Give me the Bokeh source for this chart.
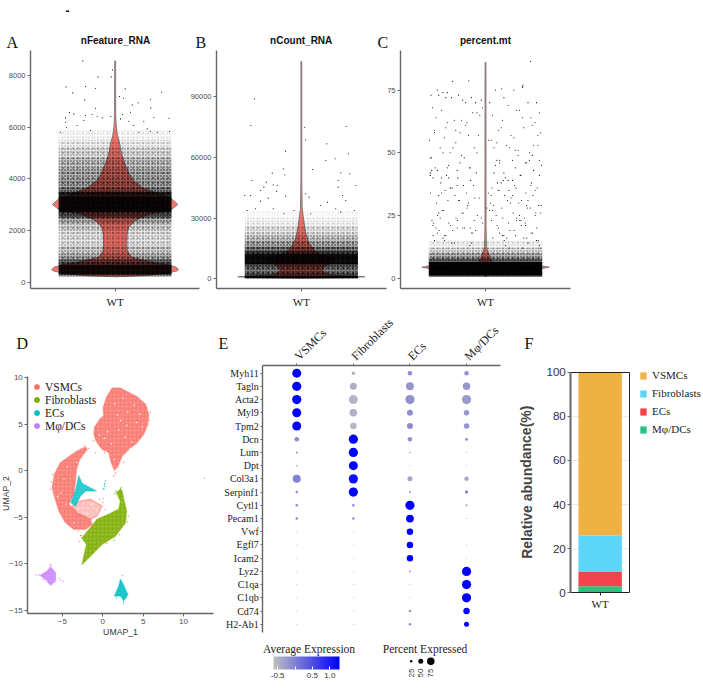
from bokeh.embed import file_html
from bokeh.resources import INLINE
from bokeh.plotting import figure
from bokeh.models import (Range1d, FixedTicker, LinearAxis, Legend, LegendItem, NumeralTickFormatter,
                          ColorBar, LinearColorMapper, ColumnDataSource)

SANS = "Liberation Sans"
SERIF = "Liberation Serif"
OX, OY = 0, 0      # where the canvas sits on the page
W, H = 702, 688

# ---------- violin data ----------
a_y = [220,260,350,450,500,600,700,750,850,977,1234,1500,1877,2135,2390,2650,2778,3010,3228,3420,3680,3935,4190,4580,4960,5350,5735,6120,6500,8550]
a_w = [0,.2,.36,.44,.45,.43,.36,.29,.21,.115,.085,.082,.085,.095,.14,.245,.39,.445,.40,.305,.187,.128,.1,.069,.045,.033,.014,.007,.004,.003]
a_band_lo = [220,300,700,900,1100,1400,2000,2300,2500,2700,3300,3500,3650,4000,4400,4800,5200,5500]
a_band_hi = [300,700,900,1100,1400,2000,2300,2500,2700,3300,3500,3650,4000,4400,4800,5200,5500,5900]
a_band_d = [.55,.95,.75,.5,.36,.26,.34,.5,.8,.97,.92,.68,.55,.5,.42,.3,.18,.09]
a_px = [-.229,-.019,-.028,-.121,-.348,-.21,-.139,-.30,.071,-.215,.031,.059,.25,.163,.121,.253,.329,-.139,-.324,-.293,-.352,-.352,-.21,-.163,-.128,-.092,-.031,.052,.109,.274,.381,.203,.097,-.345,-.27,-.222,.132,.168,.385,.25,.298,-.388,.227,-.175,.038]
a_py = [8552,8205,7935,7935,7549,7562,7497,7317,7472,7047,7176,7112,7073,6932,6854,6739,7343,6726,6559,6507,6353,6186,6443,6481,6417,6353,6404,6481,6571,6379,6340,6224,6224,5993,6057,6250,6057,5800,5826,5838,5800,5800,5928,5864,6314]

b_y = [200,300,600,1000,1400,1800,4000,6000,8000,10000,12000,14000,17000,20000,25000,30000,35000,50000,107500]
b_w = [0,.1,.35,.45,.35,.2,.15,.16,.22,.24,.14,.09,.06,.04,.025,.015,.006,.003,.003]
b_band_lo = [300,1500,3000,5500,7000,12500,14000,16000,19000,22000,26000,30000]
b_band_hi = [1500,3000,5500,7000,12500,14000,16000,19000,22000,26000,30000,34000]
b_band_d = [.98,.8,.68,.78,.97,.85,.68,.5,.36,.24,.12,.05]
b_px = [-.331,-.357,.024,.317,.031,.18,-.111,.173,.239,.333,-.128,-.206,-.116,.08,.279,.343,-.35,.26,-.248,-.199,-.17,-.265,.385,-.288,-.175,.26,-.4,-.359,-.111,.031,.054,.291,-.234,.314,.184,-.288,-.199,-.383,-.324,.137,.243,.374,-.052,-.123,.066,.279]
b_py = [88990,75800,74980,75300,68720,66740,63120,58500,59330,61800,54380,52240,51420,54050,52400,51900,48600,48600,47800,46470,46140,45320,46140,43670,43340,45320,41200,41200,40870,42020,40380,41200,39880,38730,37900,38400,34610,33780,34610,36260,34610,33780,33780,32140,32140,32960]

c_y = [.5,2,3.4,3.9,4.4,4.9,5.3,6,8,10,12,20,86]
c_w = [0,.02,.3,.4,.45,.4,.2,.05,.035,.02,.008,.004,.003]
c_band_lo = [.5,1,6.5,8,10,12]
c_band_hi = [1,6.5,8,10,12,15]
c_band_d = [.7,.99,.75,.5,.3,.14]
c_px = [.318,-.232,-.118,.26,.262,.265,.115,-.34,-.33,-.3,-.27,-.24,-.19,-.16,-.1,-.07,-.03,.03,.07,.13,.16,.2,.24,.3,.36,.38,-.385,-.375,-.35,-.31,-.28,-.22,-.18,-.14,-.09,-.05,.05,.09,.12,.18,.22,.27,.32,.35,.39,-.395,-.36,-.32,-.29,-.25,-.21,-.17,-.12,-.08,.04,.08,.11,.15,.19,.23,.28,.33,.37,.395,-.38,-.34,-.3,-.26,-.23,-.2,-.15,-.11,-.06,.06,.1,.14,.17,.21,.25,.29,.34,.38,-.39,-.355,-.315,-.275,-.245,-.195,-.155,-.105,-.065,.045,.085,.125,.165,.205,.245,.285,.325,.365,-.37,-.33,-.285,-.235,-.185,-.135,-.085,-.045,.055,.095,.135,.175,.215,.255,.295,.335,.375,-.388,-.345,-.305,-.265,-.215,-.165,-.125,-.075,.035,.075,.115,.155,.195,.235,.275,.315,.355,.392,-.378,-.338,-.298,-.258,-.208,-.158,-.108,-.058,.042,.082,.122,.162,.202,.242,.282,.322,.362,-.368,-.328,-.288,-.248,-.198,-.148,-.098,.052,.092,.132,.172,.212,.252,.292,.332,.372,
        -.37,-.29,-.24,-.13,-.02,.02,.1,.19,.26,.31,.38,-.36,-.28,-.2,-.11,.01,.08,.16,.24,.33,-.39,-.31,-.23,-.14,-.04,.06,.13,.22,.3,.37,-.35,-.27,-.18,-.09,.03,.11,.2,.28,.35,-.38,-.3,-.21,-.12,-.03,.07,.15,.23,.32,.39,-.34,-.26,-.17,-.08,.04,.12,.21,.29,.36,-.39,-.32,-.25,-.16,-.06,.05,.14,.18,.27,.34,-.37,-.31,-.22,-.13,-.07,.09,.17,.25,.31,.38,-.33,-.28,-.19,-.1,-.02,.1,.19,.26,.35,-.36,-.27,-.2,-.11,.02,.13,.22,.3,.39]
c_py = [86.5,78.5,78.7,76.5,76,77,75.5,75,73,74,74,72,73,71,72,70,71,70,75,72,69,75,67,70,70,66,73,68,64,67,60,63,58,61,66,57,65,59,63,57,67,60,64,62,58,55,59,52,56,50,54,49,57,52,55,47,60,53,47,51,46,49,53,45,48,43,50,45,52,43,48,44,50,42,46,40,52,44,41,46,43,47,41,44,38,41,36,40,37,39,42,36,38,39,35,37,41,34,38,36,40,33,35,36,31,34,37,32,29,35,33,30,36,31,28,33,29,34,30,27,31,33,26,29,32,30,25,28,31,26,30,24,28,26,29,23,25,27,22,24,26,20,25,23,21,24,22,19,23,21,18,20,22,19,17,21,23,20,18,16,20,15,19,17,21,16,18,15,17,15,14,
        62,68,55,47,33,64,50,41,58,72,37,44,28,54,39,25,61,48,34,19,70,65,52,42,24,31,57,20,62,46,18,27,38,56,22,35,43,16,59,30,24,45,16,49,37,26,18,40,63,23,33,17,51,29,15,42,24,36,20,66,27,13,32,16,53,21,40,14,28,19,35,12,23,47,13,26,17,31,14,22,18,39,12,25,15,44,20,13,34,17,23,14,12,27,16,19,13,21,11]

# ---------- UMAP outlines ----------
vsmc_up_x = [1.16,2.19,3.23,4.26,5.29,5.70,5.58,5.08,4.26,3.23,2.40,1.99,1.45,1.04,.75,-.08,-.70,-1.11,-1.03,-.37,.13,.05,.46]
vsmc_up_y = [8.89,8.89,8.42,7.95,7.16,6.08,5.01,3.93,3.03,2.31,1.59,.70,.05,.88,1.95,2.31,3.03,3.93,4.65,5.55,5.91,6.80,7.88]
vsmc_cr_x = [-2.14,-3.18,-4.21,-5.24,-5.99,-6.27,-6.07,-5.45,-4.62,-3.59,-2.14,-1.32,-1.52,-3.18,-4.21,-3.59,-3.38,-3.26,-2.85,-1.94]
vsmc_cr_y = [2.56,2.13,1.49,.88,-.38,-1.82,-2.54,-4.33,-5.59,-6.31,-6.31,-5.77,-5.23,-4.51,-3.61,-2.54,-1.10,.16,1.24,2.31]
vsmc_sp_x = [-2.76,-1.52,-.08,-.70,-1.52,-3.18,-3.80]
vsmc_sp_y = [-3.25,-3.07,-3.79,-4.87,-5.23,-4.69,-3.79]
fib_x = [2.19,1.70,2.19,1.99,.75,-.70,-1.52,-2.56,-2.02,-2.56,-1.52,-.08,1.57,2.81,2.94,2.60,2.40]
fib_y = [-2.0,-2.36,-3.25,-4.15,-4.69,-5.23,-6.13,-7.21,-7.92,-10.08,-9.18,-7.92,-7.03,-5.59,-4.33,-3.07,-2.18]
ec_a_x = [-2.98,-2.56,-.83,-2.15,-2.77,-3.39,-3.93,-3.39,-3.10]
ec_a_y = [-.56,-1.38,-2.17,-2.17,-2.71,-3.79,-3.43,-2.17,-1.09]
ec_b_x = [2.19,2.52,3.10,2.60,2.19,1.45,1.99]
ec_b_y = [-11.69,-12.23,-13.31,-13.96,-13.49,-13.49,-12.41]
mp_x = [-6.48,-5.86,-5.86,-6.48,-7.10,-7.72,-6.89]
mp_y = [-10.37,-10.98,-11.88,-12.31,-11.69,-11.26,-10.80]
# scattered cells beyond the dense clouds
ec_p_x = [.1,.2,.25,.3,.15,.2,2.6,2.55,2.45,2.75,2.9,1.7]
ec_p_y = [-1.9,-1.7,-1.4,-1.1,-2.0,-1.5,-14.3,-14.1,-11.3,-13.8,-13.6,-13.7]
mp_p_x = [12.6,-5.2,-4.9,-5.4,-8.0,-7.8,-8.3,-6.4,-6.5,-7.4]
mp_p_y = [-.8,-11.8,-11.9,-11.6,-11.3,-11.2,-11.2,-10.2,-10.1,-11.7]
fib_p_x = [-.95,-.9,-.85,-2.6,-2.4,-2.2,-2.7,2.2,2.3,1.6,1.5,3.15,3.1,.5,1.4,-1.2,-1.8,2.1]
fib_p_y = [3.6,3.9,3.3,-7.3,-7.5,-7.2,-7.0,-1.9,-1.8,-2.2,-2.5,-4.9,-5.5,-7.8,-7.5,-8.8,-8.0,-6.9]
vs_p_x = [-2.3,-1.7,-.4,0,.3,1.5,1.35,1.6,-1.2,-.3,5.9,5.8,5.4,.2,-.9,-1.3,-2.0,-1.0,-.2,.1,-6.5,-6.4,-6.2,-3.0,-1.5,-2.7,-2.9,1.9,2.6]
vs_p_y = [2.7,2.4,-3.1,-3.4,-4.2,-.4,-.6,-.2,3.2,2.6,6.3,5.4,6.8,1.9,1.9,-5.9,-7.1,-6.2,-5.1,-3.0,-2.0,-1.2,-.4,-6.5,-6.6,-7.0,-7.6,.4,.9]
hole_x = [1.5,2.2,3.1,4.2,.6,2.8,3.6,1.1,1.8,2.5,4.6,.2,3.9,2.0,3.0,1.4,-.4,4.9,2.4,3.4,-4.8,-5.2,-4.6,-3.6,-4.4,-5.6,-3.2,-2.4,-.8,-1.4,-2.0,-3.0]
hole_y = [7.2,5.4,6.3,5.2,4.2,3.6,3.1,2.9,6.0,7.8,6.1,3.5,7.1,4.4,4.9,1.2,3.8,4.7,.9,2.4,-.9,-2.4,-3.6,-5.6,.4,-2.8,.9,1.6,-4.2,-3.6,-4.6,-4.1]

# ---------- dot plot ----------
genes = ["Myh11","Tagln","Acta2","Myl9","Tpm2","Dcn","Lum","Dpt","Col3a1","Serpinf1","Cytl1","Pecam1","Vwf","Egfl7","Icam2","Lyz2","C1qa","C1qb","Cd74","H2-Ab1"]
clusters = ["VSMCs","Fibroblasts","ECs","Mφ/DCs"]
pct_vsmc = [90,92,92,90,90,45,20,15,80,25,25,25,10,10,10,10,10,10,10,10]
pct_fib = [35,70,90,75,65,92,92,90,92,92,25,25,10,10,10,10,10,10,10,10]
pct_ec = [45,80,92,60,60,45,15,10,50,20,92,78,65,65,65,20,10,10,25,25]
pct_mp = [45,75,92,55,55,30,10,10,45,35,20,10,7,10,10,92,92,92,65,50]
exp_vsmc = [1.28,1.28,1.28,1.28,1.28,-.1,-.1,-.2,0,-.05,-.1,-.05,-.5,-.5,-.5,-.5,-.5,-.5,-.5,-.5]
exp_fib = [-.45,-.45,-.5,-.45,-.5,1.28,1.28,1.28,1.15,1.28,-.1,-.1,-.5,-.5,-.5,-.5,-.5,-.5,-.5,-.5]
exp_ec = [-.1,-.2,-.15,-.15,-.1,-.15,-.2,-.3,-.35,-.2,1.28,1.28,1.28,1.28,1.28,-.3,-.4,-.4,-.1,-.1]
exp_mp = [-.15,-.2,-.25,-.2,-.2,-.15,-.3,-.4,-.4,-.1,-.2,-.3,-.5,-.3,-.5,1.28,1.28,1.28,1.2,1.28]
pct_legend = [25,50,75]
exp_ticks = [-.5,.001,.5,1]

# ---------- bar ----------
bar_labels = ["VSMCs","Fibroblasts","ECs","Mφ/DCs"]
bar_values = [74,16.3,6.7,3]
bar_ticks = [0,20,40,60,80,100]
bar_colors = ["#EFB044","#5DD5F9","#F5434E","#26C47E"]
umap_colors = ["#F8766D","#7CAE00","#00BFC4","#C77CFF"]
RED = "#F8766D"

# one page-sized canvas: its default ranges are page pixels, each panel has its own ranges
p = figure(width=W, height=H, x_range=Range1d(OX, OX + W), y_range=Range1d(OY + H, OY), output_backend="svg",
           toolbar_location=None, min_border=0, background_fill_color=None, border_fill_color=None,
           outline_line_color=None, x_axis_type=None, y_axis_type=None, frame_width=W, frame_height=H)
p.grid.visible = False


def panel(name, l, r, t, b, x0, x1, y0, y1):
    sx = (x1 - x0) / (r - l)
    sy = (y1 - y0) / (b - t)
    p.extra_x_ranges[name] = Range1d(x0 + (OX - l) * sx, x0 + (OX + W - l) * sx)
    p.extra_y_ranges[name] = Range1d(y0 + (b - OY - H) * sy, y0 + (b - OY) * sy)
    return dict(x_range_name=name, y_range_name=name)


def axis(name, side, loc, bounds, ticks, size="7.5px", font=SANS, color="#4d4d4d", line="#666666", lw=1.4, out=3,
         standoff=2, overrides=None, orient=None):
    ax = LinearAxis(x_range_name=name, y_range_name=name, fixed_location=loc, bounds=bounds,
                    ticker=FixedTicker(ticks=ticks), axis_line_color=line, axis_line_width=lw,
                    major_tick_line_color=line, major_tick_in=0, major_tick_out=out, minor_tick_line_color=None,
                    major_label_text_font=font, major_label_text_font_size=size, major_label_text_color=color,
                    major_label_standoff=standoff)
    if overrides:
        ax.major_label_overrides = overrides
    if orient is not None:
        ax.major_label_orientation = orient
    p.add_layout(ax, side)
    return ax


def violin(name, l, r, ymin, ymax, ticks, vy, vw, lo, hi, dens, px, py):
    R = panel(name, l, r, 50, 288, -.6, .6, ymin, ymax)
    axis(name, "left", -.6, (ymin, ymax), ticks)
    axis(name, "below", ymin, (-.6, .6), [0], size="11px", font=SERIF, color="#222222", standoff=4, overrides={0: "WT"})
    xs = [-w for w in vw] + [w for w in reversed(vw)]
    ys = list(vy) + list(reversed(vy))
    p.patch(xs, ys, fill_color=RED, line_color="#777777", line_width=0.9, **R)
    src = ColumnDataSource(dict(lo=lo, hi=hi, a=[d ** 1.8 for d in dens], h=[min(1, d * 1.6) for d in dens],
                                h2=[d * .8 for d in dens]))
    p.quad(left=-.4, right=.4, bottom="lo", top="hi", source=src, fill_color="black", fill_alpha="a",
           line_color=None, hatch_pattern="dot", hatch_color="black", hatch_alpha="h", hatch_scale=3, **R)
    p.quad(left=-.4, right=.4, bottom="lo", top="hi", source=src, fill_color=None,
           line_color=None, hatch_pattern="dot", hatch_color="black", hatch_alpha="h2", hatch_scale=5, **R)
    p.scatter(px, py, size=1.1, color="black", line_color=None, **R)


violin("A", 30, 199.3, -231, 8953, [0, 2000, 4000, 6000, 8000], a_y, a_w, a_band_lo, a_band_hi, a_band_d, a_px, a_py)
violin("B", 216, 385.7, -4800, 112900, [0, 30000, 60000, 90000], b_y, b_w, b_band_lo, b_band_hi, b_band_d, b_px, b_py)
violin("C", 400, 570, -4.1, 90.8, [0, 25, 50, 75], c_y, c_w, c_band_lo, c_band_hi, c_band_d, c_px, c_py)
p.text([115, 300.7, 485], [40, 40, 40], text=["nFeature_RNA", "nCount_RNA", "percent.mt"], text_align="center",
       text_baseline="middle", text_font={"value": SANS}, text_font_size="10px", text_font_style="bold", text_color="#111111")

# ---------- UMAP ----------
RD = panel("D", 27.3, 213, 376, 613.3, -9.29, 13.72, -15.4, 10.14)
axis("D", "left", -9.29, (-15.4, 10.14), [-15, -10, -5, 0, 5, 10], size="8px")
axis("D", "below", -15.4, (-9.29, 13.72), [-5, 0, 5, 10], size="8px")
p.text([120], [631.7], text=["UMAP_1"], text_align="center", text_baseline="middle", text_font={"value": SANS},
       text_font_size="8.7px", text_color="#333333")
p.text([5.5], [493], text=["UMAP_2"], angle=1.5708, text_align="center", text_baseline="middle", text_font={"value": SANS},
       text_font_size="8.7px", text_color="#333333")
for xs, ys, col, a, hs in [(vsmc_up_x, vsmc_up_y, umap_colors[0], .92, 4), (vsmc_cr_x, vsmc_cr_y, umap_colors[0], .92, 4),
                           (vsmc_sp_x, vsmc_sp_y, umap_colors[0], .45, 5), (fib_x, fib_y, umap_colors[1], .92, 4),
                           (ec_a_x, ec_a_y, umap_colors[2], .85, 3), (ec_b_x, ec_b_y, umap_colors[2], .92, 3),
                           (mp_x, mp_y, umap_colors[3], .85, 3)]:
    p.patch(xs, ys, fill_color=col, fill_alpha=a, line_color=col, line_alpha=.45, line_width=1.5, line_join="round",
            hatch_pattern="dot", hatch_color="white", hatch_alpha=.22, hatch_scale=hs, **RD)
p.scatter(hole_x, hole_y, size=1.4, color="white", line_color=None, **RD)
key = []
for xs, ys, c in [(vs_p_x, vs_p_y, umap_colors[0]), (fib_p_x, fib_p_y, umap_colors[1]),
                  (ec_p_x, ec_p_y, umap_colors[2]), (mp_p_x, mp_p_y, umap_colors[3])]:
    key.append(p.scatter(xs, ys, size=.6, color=c, line_color=c, line_width=.7, **RD))
lg = Legend(items=[LegendItem(label=n, renderers=[r]) for n, r in zip(clusters, key)],
            location=(30, 256), margin=0, padding=0, spacing=0, glyph_width=13, glyph_height=13,
            label_standoff=2, label_text_font=SERIF, label_text_font_size="11.5px", label_text_color="#222222",
            background_fill_color=None, border_line_color=None, label_height=12)
p.add_layout(lg, "center")

# ---------- dot plot ----------
palette = ["#%02x%02x%02x" % (round(192 - 192 * i / 255), round(192 - 192 * i / 255), round(192 + 63 * i / 255)) for i in range(256)]
mapper = LinearColorMapper(palette=palette, low=-.62, high=1.28)
RE = panel("E", 262.3, 500, 364.7, 631.7, -.6, 3.6, 19.6, -.6)
axis("E", "above", -.6, (-.6, 3.6), [0, 1, 2, 3], size="12px", font=SERIF, color="#222222", out=2, standoff=5,
     overrides=dict(enumerate(clusters)), orient=.785)
axis("E", "left", -.6, (-.6, 19.6), list(range(len(genes))), size="10px", font=SERIF, color="#222222", out=2,
     overrides=dict(enumerate(genes)))
for i, (pct, exp) in enumerate(zip([pct_vsmc, pct_fib, pct_ec, pct_mp], [exp_vsmc, exp_fib, exp_ec, exp_mp])):
    s = ColumnDataSource(dict(g=list(range(len(genes))), c=[i] * len(genes), s=[v / 10 for v in pct], e=exp))
    p.scatter("c", "g", size="s", source=s, fill_color={"field": "e", "transform": mapper}, line_color=None, **RE)
p.text([310, 426], [648, 648], text=["Average  Expression", "Percent  Expressed"], text_align="center",
       text_font={"value": SERIF}, text_font_size="11.5px", text_color="#222222", text_baseline="alphabetic")
cb = ColorBar(color_mapper=mapper, orientation="horizontal", width=66, height=13, location=(273, 8),
              ticker=FixedTicker(ticks=exp_ticks), formatter=NumeralTickFormatter(format="0.0"),
              major_label_text_font=SANS, major_label_text_font_size="8px",
              major_label_text_color="#333333", major_tick_line_color="white", major_tick_in=3, major_tick_out=0,
              minor_tick_line_color=None, bar_line_color=None, padding=0, margin=0, label_standoff=3,
              background_fill_color=None)
p.add_layout(cb, "center")
legend_dot_x = [410.7, 420.3, 430.3]
p.scatter(legend_dot_x, [660.7] * 3, size=[v / 10 for v in pct_legend], color="black", line_color=None)
p.text(legend_dot_x, [677] * 3, text=[str(v) for v in pct_legend], angle=1.5708, text_font={"value": SANS},
       text_font_size="8px", text_color="#333333", text_baseline="middle")

# ---------- bar ----------
RF = panel("F", 570.3, 629, 371.7, 592.3, 0, 1, 0, 100)
p.segment([0] * 4, bar_ticks[1:5], [1] * 4, bar_ticks[1:5], line_color="#e8e8e8", line_width=1, **RF)
axis("F", "left", 0, (0, 100), bar_ticks, size="11.6px", color="#333333", lw=2)
axis("F", "below", 0, (0, 1), [.5], size="11px", font=SERIF, color="#222222", line="#222222", lw=1, overrides={.5: "WT"})
axis("F", "above", 100, (0, 1), [], line="#222222", lw=1)
axis("F", "right", 1, (0, 100), [], line="#222222", lw=1)
base = 0
bars = []
for v, c in zip(reversed(bar_values), reversed(bar_colors)):
    bars.append(p.vbar(x=[.5], top=[base + v], bottom=[base], width=.74, color=c, line_color=None, **RF))
    base += v
lgf = Legend(items=[LegendItem(label=n, renderers=[r]) for n, r in zip(bar_labels, reversed(bars))],
             location=(639, 253), margin=0, padding=0, spacing=6, glyph_width=8, glyph_height=9, label_height=10,
             label_standoff=5, label_text_font=SERIF, label_text_font_size="11px", label_text_color="#222222",
             background_fill_color=None, border_line_color=None)
p.add_layout(lgf, "center")
p.text([526], [481.7], text=["Relative abundance(%)"], angle=1.5708, text_align="center", text_baseline="middle",
       text_font={"value": SANS}, text_font_size="14px", text_font_style="bold", text_color="#444444")

# ---------- panel letters ----------
p.text([6, 195, 377, 16, 218, 524], [42, 42, 42, 343, 343, 343], text=["A", "B", "C", "D", "E", "F"],
       text_font={"value": SERIF}, text_font_size="16px", text_color="#111111", text_baseline="alphabetic")
p.text([65], [14], text=["-"], text_font={"value": SANS}, text_font_size="12px", text_font_style="bold", text_color="#111111")

open("out.html", "w").write(file_html(p, INLINE))
